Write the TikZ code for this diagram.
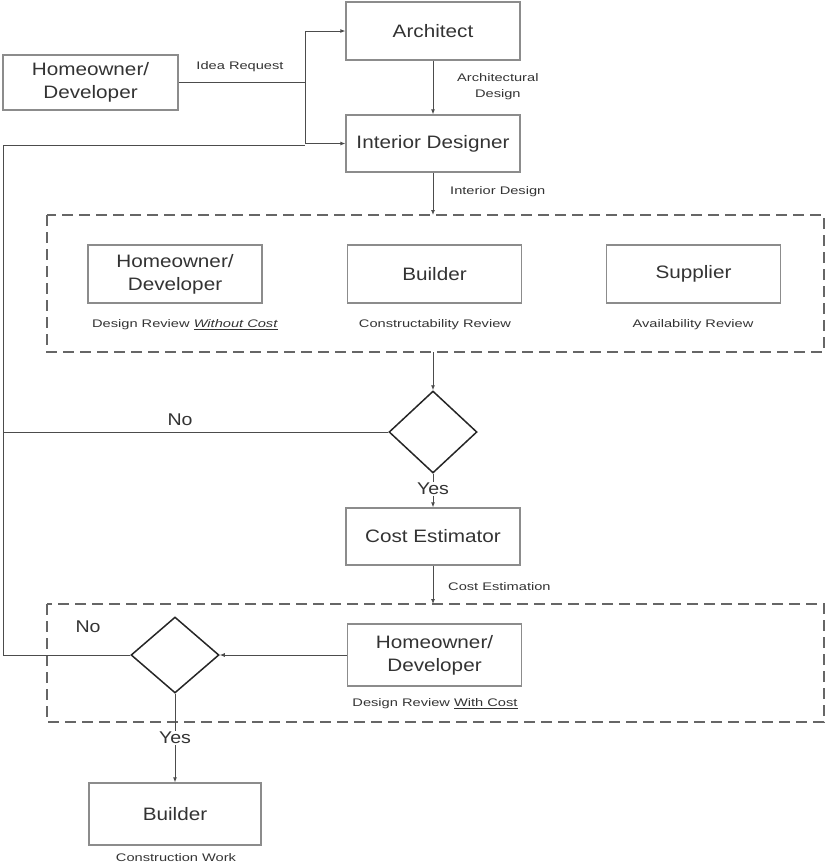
\documentclass[tikz,border=0pt]{standalone}
\usepackage{fontspec}
\setmainfont{Liberation Sans}
\newfontfamily\boxfont[FakeStretch=1.15]{Liberation Sans}
\newfontfamily\lblfont[FakeStretch=1.33]{Liberation Sans}
\usetikzlibrary{arrows.meta,shapes.geometric}
\definecolor{boxline}{gray}{0.55}
\definecolor{txt}{gray}{0.2}
\tikzset{
  pbox/.style={draw=boxline,line width=1.3pt,minimum width=174pt,minimum height=58pt,align=center,font=\boxfont\fontsize{18}{23}\selectfont,text=txt,inner sep=2pt},
  lbl/.style={font=\lblfont\fontsize{11}{16}\selectfont,text=txt,inner sep=1pt,align=center},
  yn/.style={font=\boxfont\fontsize{17}{20}\selectfont,text=txt,inner sep=1pt},
  dec/.style={draw=black!85,line width=1.5pt,diamond,minimum width=88pt,minimum height=82pt,inner sep=0pt,aspect=1},
  conn/.style={draw=black!70,line width=0.9pt},
  arr/.style={conn,-{Latex[length=5pt,width=4pt]}},
  grp/.style={draw=black!60,line width=1.8pt,dash pattern=on 11pt off 6pt}
}
\begin{document}
\begin{tikzpicture}[x=1pt,y=-1pt]
\useasboundingbox (0,0) rectangle (827,868);
% group boxes
\draw[grp] (47,215) rectangle (824,352);
\draw[grp] (47,604) rectangle (824,722);
% nodes
\node[pbox,minimum width=175pt,minimum height=55pt] (hd) at (90.5,82.5) {Homeowner/\\Developer};
\node[pbox] (arch) at (433,31) {Architect};
\node[pbox,minimum height=57pt] (int) at (433,143.5) {Interior Designer};
\node[pbox] (hd2) at (175,274) {Homeowner/\\Developer};
\node[pbox] (bld) at (434.5,274) {Builder};
\node[pbox] (sup) at (693.5,274) {Supplier};
\node[dec] (d1) at (433,432) {};
\node[pbox,minimum height=57pt] (cost) at (433,536.5) {Cost Estimator};
\node[pbox,minimum height=62pt] (hd3) at (434.5,655) {Homeowner/\\Developer};
\node[dec,minimum width=88pt,minimum height=76pt] (d2) at (175,655) {};
\node[pbox,minimum width=172pt,minimum height=62pt] (bld2) at (175,814) {Builder};
% labels
\node[lbl,anchor=south] (l1) at (240,73) {Idea Request};
\node[lbl,anchor=west] (l2) at (456,87) {Architectural\\Design};
\node[lbl,anchor=west] (l3) at (449,192) {Interior Design};
\node[lbl] (l4) at (185,325) {Design Review \underline{\textit{Without Cost}}};
\node[lbl] (l5) at (435,325) {Constructability Review};
\node[lbl] (l6) at (693,325) {Availability Review};
\node[yn] (no1) at (180,420) {No};
\node[yn] (yes1) at (433,489) {Yes};
\node[lbl,anchor=west] (l7) at (447,587) {Cost Estimation};
\node[lbl] (l8) at (435,704) {Design Review \underline{With Cost}};
\node[yn] (no2) at (88,627) {No};
\node[yn,fill=white] (yes2) at (175,738) {Yes};
\node[lbl] (l9) at (176,858) {Construction Work};
% coordinates
\coordinate (j) at (305,82.5);
\coordinate (loopTop) at (3,145);
\coordinate (loopBot) at (3,655);
\coordinate (g1top) at (433,215);
\coordinate (g1bot) at (433,352);
\coordinate (g2top) at (433,604);
% connectors
\draw[conn] (hd.east) -- (j);
\draw[arr] (j) |- (arch.west);
\draw[arr] (j) |- (int.west);
\draw[arr] (arch.south) -- (int.north);
\draw[arr] (int.south) -- (g1top);
\draw[arr] (g1bot) -- (d1.north);
\draw[conn] (d1.west) -- (d1.west -| loopTop);
\draw[conn] (d1.south) -- (yes1.north);
\draw[arr] (yes1.south) -- (cost.north);
\draw[arr] (cost.south) -- (g2top);
\draw[arr] (hd3.west) -- (d2.east);
\draw[conn] (d2.west) -- (loopBot) -- (loopTop) -- (j |- loopTop);
\draw[conn] (d2.south) -- (yes2.north);
\draw[arr] (yes2.south) -- (bld2.north);
\end{tikzpicture}
\end{document}
